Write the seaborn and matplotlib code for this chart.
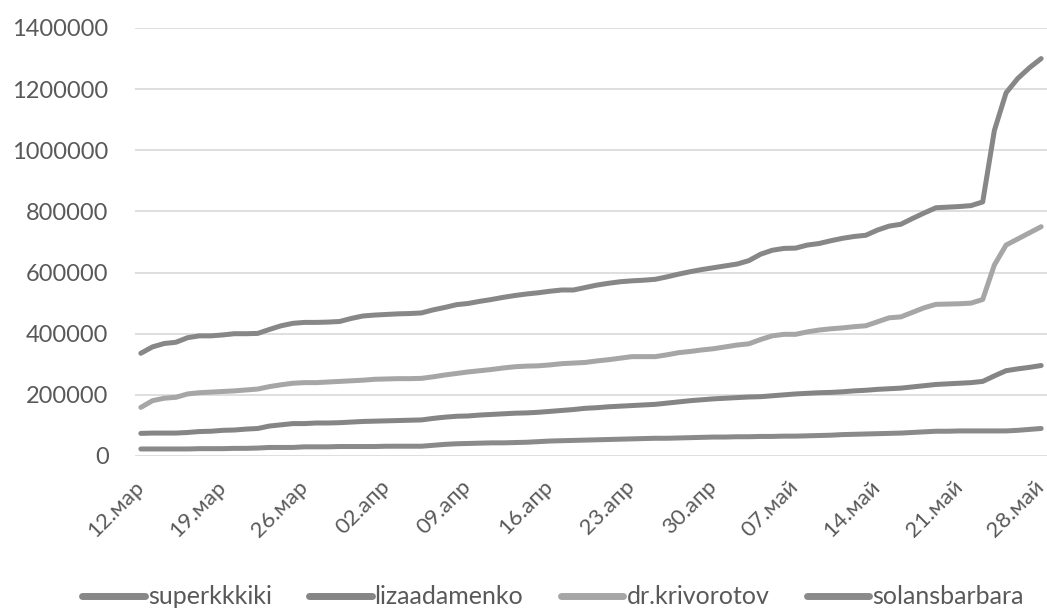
import numpy as np
import pandas as pd
import seaborn as sns
from matplotlib import pyplot as plt

# daily values, 12 March .. 28 May
dates = pd.date_range("2020-03-12", "2020-05-28", freq="D")

superkkkiki = [
    336000, 357000, 368000, 372000, 387000, 393000, 393000, 396000, 400000, 400000,
    401000, 414000, 426000, 434000, 437000, 437000, 438000, 440000, 450000, 458000,
    461000, 463000, 465000, 466000, 468000, 478000, 486000, 495000, 499000, 506000,
    512000, 519000, 525000, 530000, 534000, 539000, 543000, 543000, 551000, 559000,
    565000, 570000, 573000, 575000, 578000, 586000, 595000, 603000, 610000, 616000,
    622000, 628000, 639000, 660000, 673000, 679000, 680000, 690000, 695000, 704000,
    712000, 718000, 722000, 739000, 752000, 758000, 777000, 795000, 812000, 814000,
    816000, 819000, 831000, 1065000, 1188000, 1235000, 1270000, 1300000,
]
lizaadamenko = [
    74000, 75000, 75000, 75000, 77000, 80000, 81000, 84000, 85000, 88000,
    90000, 98000, 102000, 106000, 106000, 108000, 108000, 109000, 111000, 113000,
    114000, 115000, 116000, 117000, 118000, 123000, 127000, 130000, 131000, 134000,
    136000, 138000, 140000, 141000, 143000, 146000, 149000, 152000, 156000, 158000,
    161000, 163000, 165000, 167000, 169000, 173000, 177000, 181000, 184000, 187000,
    189000, 191000, 193000, 194000, 197000, 200000, 203000, 205000, 207000, 208000,
    210000, 213000, 215000, 218000, 220000, 222000, 226000, 230000, 234000, 236000,
    238000, 240000, 244000, 262000, 279000, 285000, 290000, 296000,
]
dr_krivorotov = [
    159000, 181000, 189000, 192000, 203000, 207000, 209000, 211000, 213000, 216000,
    219000, 227000, 233000, 238000, 240000, 240000, 242000, 244000, 246000, 248000,
    251000, 252000, 253000, 253000, 254000, 259000, 265000, 270000, 275000, 279000,
    283000, 288000, 292000, 294000, 295000, 298000, 302000, 304000, 306000, 311000,
    315000, 320000, 325000, 325000, 325000, 331000, 338000, 342000, 347000, 351000,
    357000, 363000, 367000, 381000, 393000, 398000, 398000, 406000, 412000, 416000,
    419000, 423000, 426000, 439000, 452000, 455000, 470000, 485000, 496000, 497000,
    498000, 500000, 512000, 625000, 690000, 710000, 730000, 750000,
]
solansbarbara = [
    23000, 23000, 23000, 23000, 23000, 24000, 24000, 24000, 25000, 25000,
    26000, 28000, 28000, 28000, 30000, 30000, 30000, 31000, 31000, 31000,
    31000, 32000, 32000, 32000, 32000, 35000, 38000, 40000, 41000, 42000,
    43000, 43000, 44000, 45000, 47000, 49000, 50000, 51000, 52000, 53000,
    54000, 55000, 56000, 57000, 58000, 58000, 59000, 60000, 61000, 62000,
    62000, 63000, 63000, 64000, 64000, 65000, 65000, 66000, 67000, 68000,
    70000, 71000, 72000, 73000, 74000, 75000, 77000, 79000, 81000, 81000,
    82000, 82000, 82000, 82000, 82000, 84000, 87000, 90000,
]

series_names = ["superkkkiki", "lizaadamenko", "dr.krivorotov", "solansbarbara"]
month_names = {3: "мар", 4: "апр", 5: "май"}
tick_dates = dates[::7]
tick_labels = [f"{d.day:02d}.{month_names[d.month]}" for d in tick_dates]
y_ticks = [0, 200000, 400000, 600000, 800000, 1000000, 1200000, 1400000]

colors = ["#878787", "#858585", "#a6a6a6", "#8a8a8a"]

sns.set_style("white")
plt.rcParams["font.family"] = ["Lato", "DejaVu Sans"]

day = (dates - dates[0]).days
df = pd.DataFrame({
    "day": np.tile(day, 4),
    "value": superkkkiki + lizaadamenko + dr_krivorotov + solansbarbara,
    "name": np.repeat(series_names, len(dates)),
})

fig = plt.figure(figsize=(10.47, 6.12), dpi=100)
ax = fig.add_axes([135 / 1047, 1 - 456 / 612, 1 - 135 / 1047, (456 - 28) / 612])

sns.lineplot(data=df, x="day", y="value", hue="name", hue_order=series_names,
             palette=colors, linewidth=3.6, ax=ax, legend=True)
for line in ax.lines:
    line.set_solid_capstyle("round")
    line.set_solid_joinstyle("round")

ax.set_xlim(-0.5, len(dates) - 0.5)
ax.set_ylim(0, 1400000)
ax.set_yticks(y_ticks)
ax.set_yticklabels([str(v) for v in y_ticks])
ax.set_xticks((tick_dates - dates[0]).days)
ax.set_xticklabels(tick_labels, rotation=45, ha="right", va="center",
                   rotation_mode="anchor")
ax.tick_params(axis="both", length=0, labelcolor="#595959")
ax.tick_params(axis="x", pad=20, labelsize=16)
ax.tick_params(axis="y", pad=19, labelsize=17)
ax.grid(axis="y", color="#d9d9d9", linewidth=1.2)
ax.set_axisbelow(True)
for s in ax.spines.values():
    s.set_visible(False)
ax.set_xlabel("")
ax.set_ylabel("")

handles, labels = ax.get_legend_handles_labels()
ax.legend(handles, labels, loc="center", bbox_to_anchor=(553 / 1047, 1 - 597 / 612),
          bbox_transform=fig.transFigure, ncol=4, frameon=False,
          fontsize=18, handlelength=2.5, handletextpad=0.12,
          columnspacing=1.5, labelcolor="#595959")
for h in ax.get_legend().get_lines():
    h.set_linewidth(5)
    h.set_solid_capstyle("round")

plt.savefig("out.png", dpi=100)
plt.close()
